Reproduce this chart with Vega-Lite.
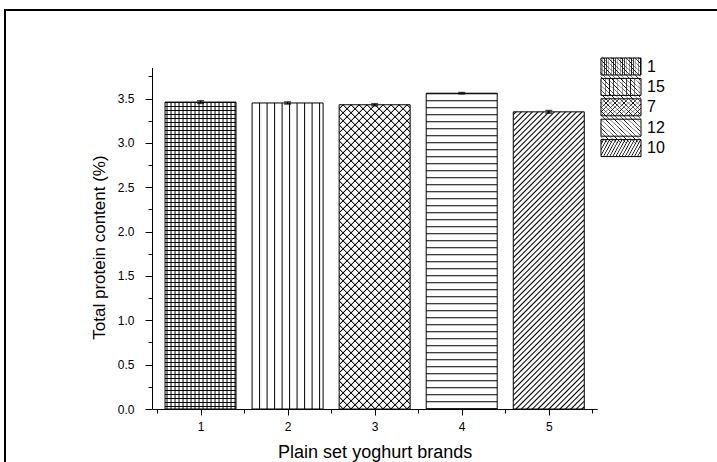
{
  "$schema": "https://vega.github.io/schema/vega-lite/v6.json",
  "width": 722,
  "height": 462,
  "autosize": {"type": "none"},
  "padding": {"left": 5, "top": 10, "right": -10, "bottom": -10},
  "background": "white",
  "params": [
    {"name": "G1", "value": {"gradient": "linear", "x1": 0, "y1": 0, "x2": 1, "y2": 0, "stops": [
      {"offset":0.0141,"color":"#fff"},{"offset":0.0282,"color":"#000"},{"offset":0.0423,"color":"#fff"},
      {"offset":0.0704,"color":"#fff"},{"offset":0.0845,"color":"#000"},{"offset":0.0986,"color":"#fff"},
      {"offset":0.1268,"color":"#fff"},{"offset":0.1408,"color":"#000"},{"offset":0.1549,"color":"#fff"},
      {"offset":0.1831,"color":"#fff"},{"offset":0.1972,"color":"#000"},{"offset":0.2113,"color":"#fff"},
      {"offset":0.2394,"color":"#fff"},{"offset":0.2535,"color":"#000"},{"offset":0.2676,"color":"#fff"},
      {"offset":0.2958,"color":"#fff"},{"offset":0.3099,"color":"#000"},{"offset":0.3239,"color":"#fff"},
      {"offset":0.3521,"color":"#fff"},{"offset":0.3662,"color":"#000"},{"offset":0.3803,"color":"#fff"},
      {"offset":0.4085,"color":"#fff"},{"offset":0.4225,"color":"#000"},{"offset":0.4366,"color":"#fff"},
      {"offset":0.4648,"color":"#fff"},{"offset":0.4789,"color":"#000"},{"offset":0.4930,"color":"#fff"},
      {"offset":0.5211,"color":"#fff"},{"offset":0.5352,"color":"#000"},{"offset":0.5493,"color":"#fff"},
      {"offset":0.5775,"color":"#fff"},{"offset":0.5915,"color":"#000"},{"offset":0.6056,"color":"#fff"},
      {"offset":0.6338,"color":"#fff"},{"offset":0.6479,"color":"#000"},{"offset":0.6620,"color":"#fff"},
      {"offset":0.6901,"color":"#fff"},{"offset":0.7042,"color":"#000"},{"offset":0.7183,"color":"#fff"},
      {"offset":0.7465,"color":"#fff"},{"offset":0.7606,"color":"#000"},{"offset":0.7746,"color":"#fff"},
      {"offset":0.8028,"color":"#fff"},{"offset":0.8169,"color":"#000"},{"offset":0.8310,"color":"#fff"},
      {"offset":0.8592,"color":"#fff"},{"offset":0.8732,"color":"#000"},{"offset":0.8873,"color":"#fff"},
      {"offset":0.9155,"color":"#fff"},{"offset":0.9296,"color":"#000"},{"offset":0.9437,"color":"#fff"},
      {"offset":0.9718,"color":"#fff"},{"offset":0.9859,"color":"#000"},{"offset":1,"color":"#fff"}]}},
    {"name": "G2", "value": {"gradient": "linear", "x1": 0, "y1": 0, "x2": 1, "y2": 0, "stops": [
      {"offset":0.0915,"color":"#fff"},{"offset":0.1056,"color":"#000"},{"offset":0.1197,"color":"#fff"},
      {"offset":0.1972,"color":"#fff"},{"offset":0.2113,"color":"#000"},{"offset":0.2254,"color":"#fff"},
      {"offset":0.3028,"color":"#fff"},{"offset":0.3169,"color":"#000"},{"offset":0.3310,"color":"#fff"},
      {"offset":0.4084,"color":"#fff"},{"offset":0.4225,"color":"#000"},{"offset":0.4366,"color":"#fff"},
      {"offset":0.5141,"color":"#fff"},{"offset":0.5282,"color":"#000"},{"offset":0.5423,"color":"#fff"},
      {"offset":0.6197,"color":"#fff"},{"offset":0.6338,"color":"#000"},{"offset":0.6479,"color":"#fff"},
      {"offset":0.7253,"color":"#fff"},{"offset":0.7394,"color":"#000"},{"offset":0.7535,"color":"#fff"},
      {"offset":0.8310,"color":"#fff"},{"offset":0.8451,"color":"#000"},{"offset":0.8592,"color":"#fff"},
      {"offset":0.9366,"color":"#fff"},{"offset":0.9507,"color":"#000"},{"offset":0.9648,"color":"#fff"}]}},
    {"name": "G3a", "value": {"gradient": "linear", "x1": 0, "y1": 0, "x2": 0.273, "y2": 1.1697, "stops": [
      {"offset":0.0075,"color":"#fff"},{"offset":0.0107,"color":"#000"},{"offset":0.0139,"color":"#fff"},
      {"offset":0.0288,"color":"#fff"},{"offset":0.0320,"color":"#000"},{"offset":0.0352,"color":"#fff"},
      {"offset":0.0501,"color":"#fff"},{"offset":0.0533,"color":"#000"},{"offset":0.0565,"color":"#fff"},
      {"offset":0.0714,"color":"#fff"},{"offset":0.0746,"color":"#000"},{"offset":0.0778,"color":"#fff"},
      {"offset":0.0927,"color":"#fff"},{"offset":0.0959,"color":"#000"},{"offset":0.0991,"color":"#fff"},
      {"offset":0.1141,"color":"#fff"},{"offset":0.1173,"color":"#000"},{"offset":0.1205,"color":"#fff"},
      {"offset":0.1354,"color":"#fff"},{"offset":0.1386,"color":"#000"},{"offset":0.1418,"color":"#fff"},
      {"offset":0.1567,"color":"#fff"},{"offset":0.1599,"color":"#000"},{"offset":0.1631,"color":"#fff"},
      {"offset":0.1780,"color":"#fff"},{"offset":0.1812,"color":"#000"},{"offset":0.1844,"color":"#fff"},
      {"offset":0.1994,"color":"#fff"},{"offset":0.2026,"color":"#000"},{"offset":0.2058,"color":"#fff"},
      {"offset":0.2207,"color":"#fff"},{"offset":0.2239,"color":"#000"},{"offset":0.2271,"color":"#fff"},
      {"offset":0.2420,"color":"#fff"},{"offset":0.2452,"color":"#000"},{"offset":0.2484,"color":"#fff"},
      {"offset":0.2633,"color":"#fff"},{"offset":0.2665,"color":"#000"},{"offset":0.2697,"color":"#fff"},
      {"offset":0.2846,"color":"#fff"},{"offset":0.2878,"color":"#000"},{"offset":0.2910,"color":"#fff"},
      {"offset":0.3060,"color":"#fff"},{"offset":0.3092,"color":"#000"},{"offset":0.3124,"color":"#fff"},
      {"offset":0.3273,"color":"#fff"},{"offset":0.3305,"color":"#000"},{"offset":0.3337,"color":"#fff"},
      {"offset":0.3486,"color":"#fff"},{"offset":0.3518,"color":"#000"},{"offset":0.3550,"color":"#fff"},
      {"offset":0.3699,"color":"#fff"},{"offset":0.3731,"color":"#000"},{"offset":0.3763,"color":"#fff"},
      {"offset":0.3913,"color":"#fff"},{"offset":0.3945,"color":"#000"},{"offset":0.3977,"color":"#fff"},
      {"offset":0.4126,"color":"#fff"},{"offset":0.4158,"color":"#000"},{"offset":0.4190,"color":"#fff"},
      {"offset":0.4339,"color":"#fff"},{"offset":0.4371,"color":"#000"},{"offset":0.4403,"color":"#fff"},
      {"offset":0.4552,"color":"#fff"},{"offset":0.4584,"color":"#000"},{"offset":0.4616,"color":"#fff"},
      {"offset":0.4765,"color":"#fff"},{"offset":0.4797,"color":"#000"},{"offset":0.4829,"color":"#fff"},
      {"offset":0.4979,"color":"#fff"},{"offset":0.5011,"color":"#000"},{"offset":0.5043,"color":"#fff"},
      {"offset":0.5192,"color":"#fff"},{"offset":0.5224,"color":"#000"},{"offset":0.5256,"color":"#fff"},
      {"offset":0.5405,"color":"#fff"},{"offset":0.5437,"color":"#000"},{"offset":0.5469,"color":"#fff"},
      {"offset":0.5618,"color":"#fff"},{"offset":0.5650,"color":"#000"},{"offset":0.5682,"color":"#fff"},
      {"offset":0.5832,"color":"#fff"},{"offset":0.5864,"color":"#000"},{"offset":0.5896,"color":"#fff"},
      {"offset":0.6045,"color":"#fff"},{"offset":0.6077,"color":"#000"},{"offset":0.6109,"color":"#fff"},
      {"offset":0.6258,"color":"#fff"},{"offset":0.6290,"color":"#000"},{"offset":0.6322,"color":"#fff"},
      {"offset":0.6471,"color":"#fff"},{"offset":0.6503,"color":"#000"},{"offset":0.6535,"color":"#fff"},
      {"offset":0.6684,"color":"#fff"},{"offset":0.6716,"color":"#000"},{"offset":0.6748,"color":"#fff"},
      {"offset":0.6898,"color":"#fff"},{"offset":0.6930,"color":"#000"},{"offset":0.6962,"color":"#fff"},
      {"offset":0.7111,"color":"#fff"},{"offset":0.7143,"color":"#000"},{"offset":0.7175,"color":"#fff"},
      {"offset":0.7324,"color":"#fff"},{"offset":0.7356,"color":"#000"},{"offset":0.7388,"color":"#fff"},
      {"offset":0.7537,"color":"#fff"},{"offset":0.7569,"color":"#000"},{"offset":0.7601,"color":"#fff"},
      {"offset":0.7751,"color":"#fff"},{"offset":0.7783,"color":"#000"},{"offset":0.7815,"color":"#fff"},
      {"offset":0.7964,"color":"#fff"},{"offset":0.7996,"color":"#000"},{"offset":0.8028,"color":"#fff"},
      {"offset":0.8177,"color":"#fff"},{"offset":0.8209,"color":"#000"},{"offset":0.8241,"color":"#fff"},
      {"offset":0.8390,"color":"#fff"},{"offset":0.8422,"color":"#000"},{"offset":0.8454,"color":"#fff"},
      {"offset":0.8603,"color":"#fff"},{"offset":0.8635,"color":"#000"},{"offset":0.8667,"color":"#fff"},
      {"offset":0.8817,"color":"#fff"},{"offset":0.8849,"color":"#000"},{"offset":0.8881,"color":"#fff"},
      {"offset":0.9030,"color":"#fff"},{"offset":0.9062,"color":"#000"},{"offset":0.9094,"color":"#fff"},
      {"offset":0.9243,"color":"#fff"},{"offset":0.9275,"color":"#000"},{"offset":0.9307,"color":"#fff"},
      {"offset":0.9456,"color":"#fff"},{"offset":0.9488,"color":"#000"},{"offset":0.9520,"color":"#fff"},
      {"offset":0.9670,"color":"#fff"},{"offset":0.9702,"color":"#000"},{"offset":0.9734,"color":"#fff"},
      {"offset":0.9883,"color":"#fff"},{"offset":0.9915,"color":"#000"},{"offset":0.9947,"color":"#fff"}]}},
    {"name": "G3b", "value": {"gradient": "linear", "x1": 0, "y1": 1, "x2": 0.273, "y2": -0.1697, "stops": [
      {"offset":0.0075,"color":"transparent"},{"offset":0.0107,"color":"#000"},{"offset":0.0139,"color":"transparent"},
      {"offset":0.0288,"color":"transparent"},{"offset":0.0320,"color":"#000"},{"offset":0.0352,"color":"transparent"},
      {"offset":0.0501,"color":"transparent"},{"offset":0.0533,"color":"#000"},{"offset":0.0565,"color":"transparent"},
      {"offset":0.0714,"color":"transparent"},{"offset":0.0746,"color":"#000"},{"offset":0.0778,"color":"transparent"},
      {"offset":0.0927,"color":"transparent"},{"offset":0.0959,"color":"#000"},{"offset":0.0991,"color":"transparent"},
      {"offset":0.1141,"color":"transparent"},{"offset":0.1173,"color":"#000"},{"offset":0.1205,"color":"transparent"},
      {"offset":0.1354,"color":"transparent"},{"offset":0.1386,"color":"#000"},{"offset":0.1418,"color":"transparent"},
      {"offset":0.1567,"color":"transparent"},{"offset":0.1599,"color":"#000"},{"offset":0.1631,"color":"transparent"},
      {"offset":0.1780,"color":"transparent"},{"offset":0.1812,"color":"#000"},{"offset":0.1844,"color":"transparent"},
      {"offset":0.1994,"color":"transparent"},{"offset":0.2026,"color":"#000"},{"offset":0.2058,"color":"transparent"},
      {"offset":0.2207,"color":"transparent"},{"offset":0.2239,"color":"#000"},{"offset":0.2271,"color":"transparent"},
      {"offset":0.2420,"color":"transparent"},{"offset":0.2452,"color":"#000"},{"offset":0.2484,"color":"transparent"},
      {"offset":0.2633,"color":"transparent"},{"offset":0.2665,"color":"#000"},{"offset":0.2697,"color":"transparent"},
      {"offset":0.2846,"color":"transparent"},{"offset":0.2878,"color":"#000"},{"offset":0.2910,"color":"transparent"},
      {"offset":0.3060,"color":"transparent"},{"offset":0.3092,"color":"#000"},{"offset":0.3124,"color":"transparent"},
      {"offset":0.3273,"color":"transparent"},{"offset":0.3305,"color":"#000"},{"offset":0.3337,"color":"transparent"},
      {"offset":0.3486,"color":"transparent"},{"offset":0.3518,"color":"#000"},{"offset":0.3550,"color":"transparent"},
      {"offset":0.3699,"color":"transparent"},{"offset":0.3731,"color":"#000"},{"offset":0.3763,"color":"transparent"},
      {"offset":0.3913,"color":"transparent"},{"offset":0.3945,"color":"#000"},{"offset":0.3977,"color":"transparent"},
      {"offset":0.4126,"color":"transparent"},{"offset":0.4158,"color":"#000"},{"offset":0.4190,"color":"transparent"},
      {"offset":0.4339,"color":"transparent"},{"offset":0.4371,"color":"#000"},{"offset":0.4403,"color":"transparent"},
      {"offset":0.4552,"color":"transparent"},{"offset":0.4584,"color":"#000"},{"offset":0.4616,"color":"transparent"},
      {"offset":0.4765,"color":"transparent"},{"offset":0.4797,"color":"#000"},{"offset":0.4829,"color":"transparent"},
      {"offset":0.4979,"color":"transparent"},{"offset":0.5011,"color":"#000"},{"offset":0.5043,"color":"transparent"},
      {"offset":0.5192,"color":"transparent"},{"offset":0.5224,"color":"#000"},{"offset":0.5256,"color":"transparent"},
      {"offset":0.5405,"color":"transparent"},{"offset":0.5437,"color":"#000"},{"offset":0.5469,"color":"transparent"},
      {"offset":0.5618,"color":"transparent"},{"offset":0.5650,"color":"#000"},{"offset":0.5682,"color":"transparent"},
      {"offset":0.5832,"color":"transparent"},{"offset":0.5864,"color":"#000"},{"offset":0.5896,"color":"transparent"},
      {"offset":0.6045,"color":"transparent"},{"offset":0.6077,"color":"#000"},{"offset":0.6109,"color":"transparent"},
      {"offset":0.6258,"color":"transparent"},{"offset":0.6290,"color":"#000"},{"offset":0.6322,"color":"transparent"},
      {"offset":0.6471,"color":"transparent"},{"offset":0.6503,"color":"#000"},{"offset":0.6535,"color":"transparent"},
      {"offset":0.6684,"color":"transparent"},{"offset":0.6716,"color":"#000"},{"offset":0.6748,"color":"transparent"},
      {"offset":0.6898,"color":"transparent"},{"offset":0.6930,"color":"#000"},{"offset":0.6962,"color":"transparent"},
      {"offset":0.7111,"color":"transparent"},{"offset":0.7143,"color":"#000"},{"offset":0.7175,"color":"transparent"},
      {"offset":0.7324,"color":"transparent"},{"offset":0.7356,"color":"#000"},{"offset":0.7388,"color":"transparent"},
      {"offset":0.7537,"color":"transparent"},{"offset":0.7569,"color":"#000"},{"offset":0.7601,"color":"transparent"},
      {"offset":0.7751,"color":"transparent"},{"offset":0.7783,"color":"#000"},{"offset":0.7815,"color":"transparent"},
      {"offset":0.7964,"color":"transparent"},{"offset":0.7996,"color":"#000"},{"offset":0.8028,"color":"transparent"},
      {"offset":0.8177,"color":"transparent"},{"offset":0.8209,"color":"#000"},{"offset":0.8241,"color":"transparent"},
      {"offset":0.8390,"color":"transparent"},{"offset":0.8422,"color":"#000"},{"offset":0.8454,"color":"transparent"},
      {"offset":0.8603,"color":"transparent"},{"offset":0.8635,"color":"#000"},{"offset":0.8667,"color":"transparent"},
      {"offset":0.8817,"color":"transparent"},{"offset":0.8849,"color":"#000"},{"offset":0.8881,"color":"transparent"},
      {"offset":0.9030,"color":"transparent"},{"offset":0.9062,"color":"#000"},{"offset":0.9094,"color":"transparent"},
      {"offset":0.9243,"color":"transparent"},{"offset":0.9275,"color":"#000"},{"offset":0.9307,"color":"transparent"},
      {"offset":0.9456,"color":"transparent"},{"offset":0.9488,"color":"#000"},{"offset":0.9520,"color":"transparent"},
      {"offset":0.9670,"color":"transparent"},{"offset":0.9702,"color":"#000"},{"offset":0.9734,"color":"transparent"},
      {"offset":0.9883,"color":"transparent"},{"offset":0.9915,"color":"#000"},{"offset":0.9947,"color":"transparent"}]}},
    {"name": "G5", "value": {"gradient": "linear", "x1": 0, "y1": 0, "x2": 0.2801, "y2": 1.172, "stops": [
      {"offset":0.0034,"color":"#fff"},{"offset":0.0075,"color":"#000"},{"offset":0.0116,"color":"#fff"},
      {"offset":0.0183,"color":"#fff"},{"offset":0.0224,"color":"#000"},{"offset":0.0265,"color":"#fff"},
      {"offset":0.0333,"color":"#fff"},{"offset":0.0374,"color":"#000"},{"offset":0.0415,"color":"#fff"},
      {"offset":0.0482,"color":"#fff"},{"offset":0.0523,"color":"#000"},{"offset":0.0564,"color":"#fff"},
      {"offset":0.0631,"color":"#fff"},{"offset":0.0672,"color":"#000"},{"offset":0.0713,"color":"#fff"},
      {"offset":0.0781,"color":"#fff"},{"offset":0.0822,"color":"#000"},{"offset":0.0863,"color":"#fff"},
      {"offset":0.0930,"color":"#fff"},{"offset":0.0971,"color":"#000"},{"offset":0.1012,"color":"#fff"},
      {"offset":0.1080,"color":"#fff"},{"offset":0.1121,"color":"#000"},{"offset":0.1162,"color":"#fff"},
      {"offset":0.1229,"color":"#fff"},{"offset":0.1270,"color":"#000"},{"offset":0.1311,"color":"#fff"},
      {"offset":0.1378,"color":"#fff"},{"offset":0.1419,"color":"#000"},{"offset":0.1460,"color":"#fff"},
      {"offset":0.1528,"color":"#fff"},{"offset":0.1569,"color":"#000"},{"offset":0.1610,"color":"#fff"},
      {"offset":0.1677,"color":"#fff"},{"offset":0.1718,"color":"#000"},{"offset":0.1759,"color":"#fff"},
      {"offset":0.1827,"color":"#fff"},{"offset":0.1868,"color":"#000"},{"offset":0.1909,"color":"#fff"},
      {"offset":0.1976,"color":"#fff"},{"offset":0.2017,"color":"#000"},{"offset":0.2058,"color":"#fff"},
      {"offset":0.2126,"color":"#fff"},{"offset":0.2167,"color":"#000"},{"offset":0.2208,"color":"#fff"},
      {"offset":0.2275,"color":"#fff"},{"offset":0.2316,"color":"#000"},{"offset":0.2357,"color":"#fff"},
      {"offset":0.2424,"color":"#fff"},{"offset":0.2465,"color":"#000"},{"offset":0.2506,"color":"#fff"},
      {"offset":0.2574,"color":"#fff"},{"offset":0.2615,"color":"#000"},{"offset":0.2656,"color":"#fff"},
      {"offset":0.2723,"color":"#fff"},{"offset":0.2764,"color":"#000"},{"offset":0.2805,"color":"#fff"},
      {"offset":0.2873,"color":"#fff"},{"offset":0.2914,"color":"#000"},{"offset":0.2955,"color":"#fff"},
      {"offset":0.3022,"color":"#fff"},{"offset":0.3063,"color":"#000"},{"offset":0.3104,"color":"#fff"},
      {"offset":0.3171,"color":"#fff"},{"offset":0.3212,"color":"#000"},{"offset":0.3253,"color":"#fff"},
      {"offset":0.3321,"color":"#fff"},{"offset":0.3362,"color":"#000"},{"offset":0.3403,"color":"#fff"},
      {"offset":0.3470,"color":"#fff"},{"offset":0.3511,"color":"#000"},{"offset":0.3552,"color":"#fff"},
      {"offset":0.3620,"color":"#fff"},{"offset":0.3661,"color":"#000"},{"offset":0.3702,"color":"#fff"},
      {"offset":0.3769,"color":"#fff"},{"offset":0.3810,"color":"#000"},{"offset":0.3851,"color":"#fff"},
      {"offset":0.3919,"color":"#fff"},{"offset":0.3960,"color":"#000"},{"offset":0.4001,"color":"#fff"},
      {"offset":0.4068,"color":"#fff"},{"offset":0.4109,"color":"#000"},{"offset":0.4150,"color":"#fff"},
      {"offset":0.4217,"color":"#fff"},{"offset":0.4258,"color":"#000"},{"offset":0.4299,"color":"#fff"},
      {"offset":0.4367,"color":"#fff"},{"offset":0.4408,"color":"#000"},{"offset":0.4449,"color":"#fff"},
      {"offset":0.4516,"color":"#fff"},{"offset":0.4557,"color":"#000"},{"offset":0.4598,"color":"#fff"},
      {"offset":0.4666,"color":"#fff"},{"offset":0.4707,"color":"#000"},{"offset":0.4748,"color":"#fff"},
      {"offset":0.4815,"color":"#fff"},{"offset":0.4856,"color":"#000"},{"offset":0.4897,"color":"#fff"},
      {"offset":0.4964,"color":"#fff"},{"offset":0.5005,"color":"#000"},{"offset":0.5046,"color":"#fff"},
      {"offset":0.5114,"color":"#fff"},{"offset":0.5155,"color":"#000"},{"offset":0.5196,"color":"#fff"},
      {"offset":0.5263,"color":"#fff"},{"offset":0.5304,"color":"#000"},{"offset":0.5345,"color":"#fff"},
      {"offset":0.5413,"color":"#fff"},{"offset":0.5454,"color":"#000"},{"offset":0.5495,"color":"#fff"},
      {"offset":0.5562,"color":"#fff"},{"offset":0.5603,"color":"#000"},{"offset":0.5644,"color":"#fff"},
      {"offset":0.5712,"color":"#fff"},{"offset":0.5753,"color":"#000"},{"offset":0.5794,"color":"#fff"},
      {"offset":0.5861,"color":"#fff"},{"offset":0.5902,"color":"#000"},{"offset":0.5943,"color":"#fff"},
      {"offset":0.6010,"color":"#fff"},{"offset":0.6051,"color":"#000"},{"offset":0.6092,"color":"#fff"},
      {"offset":0.6160,"color":"#fff"},{"offset":0.6201,"color":"#000"},{"offset":0.6242,"color":"#fff"},
      {"offset":0.6309,"color":"#fff"},{"offset":0.6350,"color":"#000"},{"offset":0.6391,"color":"#fff"},
      {"offset":0.6459,"color":"#fff"},{"offset":0.6500,"color":"#000"},{"offset":0.6541,"color":"#fff"},
      {"offset":0.6608,"color":"#fff"},{"offset":0.6649,"color":"#000"},{"offset":0.6690,"color":"#fff"},
      {"offset":0.6757,"color":"#fff"},{"offset":0.6798,"color":"#000"},{"offset":0.6839,"color":"#fff"},
      {"offset":0.6907,"color":"#fff"},{"offset":0.6948,"color":"#000"},{"offset":0.6989,"color":"#fff"},
      {"offset":0.7056,"color":"#fff"},{"offset":0.7097,"color":"#000"},{"offset":0.7138,"color":"#fff"},
      {"offset":0.7206,"color":"#fff"},{"offset":0.7247,"color":"#000"},{"offset":0.7288,"color":"#fff"},
      {"offset":0.7355,"color":"#fff"},{"offset":0.7396,"color":"#000"},{"offset":0.7437,"color":"#fff"},
      {"offset":0.7505,"color":"#fff"},{"offset":0.7546,"color":"#000"},{"offset":0.7587,"color":"#fff"},
      {"offset":0.7654,"color":"#fff"},{"offset":0.7695,"color":"#000"},{"offset":0.7736,"color":"#fff"},
      {"offset":0.7803,"color":"#fff"},{"offset":0.7844,"color":"#000"},{"offset":0.7885,"color":"#fff"},
      {"offset":0.7953,"color":"#fff"},{"offset":0.7994,"color":"#000"},{"offset":0.8035,"color":"#fff"},
      {"offset":0.8102,"color":"#fff"},{"offset":0.8143,"color":"#000"},{"offset":0.8184,"color":"#fff"},
      {"offset":0.8252,"color":"#fff"},{"offset":0.8293,"color":"#000"},{"offset":0.8334,"color":"#fff"},
      {"offset":0.8401,"color":"#fff"},{"offset":0.8442,"color":"#000"},{"offset":0.8483,"color":"#fff"},
      {"offset":0.8550,"color":"#fff"},{"offset":0.8591,"color":"#000"},{"offset":0.8632,"color":"#fff"},
      {"offset":0.8700,"color":"#fff"},{"offset":0.8741,"color":"#000"},{"offset":0.8782,"color":"#fff"},
      {"offset":0.8849,"color":"#fff"},{"offset":0.8890,"color":"#000"},{"offset":0.8931,"color":"#fff"},
      {"offset":0.8999,"color":"#fff"},{"offset":0.9040,"color":"#000"},{"offset":0.9081,"color":"#fff"},
      {"offset":0.9148,"color":"#fff"},{"offset":0.9189,"color":"#000"},{"offset":0.9230,"color":"#fff"},
      {"offset":0.9298,"color":"#fff"},{"offset":0.9339,"color":"#000"},{"offset":0.9380,"color":"#fff"},
      {"offset":0.9447,"color":"#fff"},{"offset":0.9488,"color":"#000"},{"offset":0.9529,"color":"#fff"},
      {"offset":0.9596,"color":"#fff"},{"offset":0.9637,"color":"#000"},{"offset":0.9678,"color":"#fff"},
      {"offset":0.9746,"color":"#fff"},{"offset":0.9787,"color":"#000"},{"offset":0.9828,"color":"#fff"},
      {"offset":0.9895,"color":"#fff"},{"offset":0.9936,"color":"#000"},{"offset":0.9977,"color":"#fff"}]}},
    {"name": "L1a", "value": {"gradient": "linear", "x1": 0, "y1": 0, "x2": 1, "y2": 0, "stops": [
      {"offset":0.025,"color":"#fff"},{"offset":0.05,"color":"#000"},{"offset":0.075,"color":"#fff"},
      {"offset":0.125,"color":"#fff"},{"offset":0.15,"color":"#000"},{"offset":0.175,"color":"#fff"},
      {"offset":0.225,"color":"#fff"},{"offset":0.25,"color":"#000"},{"offset":0.275,"color":"#fff"},
      {"offset":0.325,"color":"#fff"},{"offset":0.35,"color":"#000"},{"offset":0.375,"color":"#fff"},
      {"offset":0.425,"color":"#fff"},{"offset":0.45,"color":"#000"},{"offset":0.475,"color":"#fff"},
      {"offset":0.525,"color":"#fff"},{"offset":0.55,"color":"#000"},{"offset":0.575,"color":"#fff"},
      {"offset":0.625,"color":"#fff"},{"offset":0.65,"color":"#000"},{"offset":0.675,"color":"#fff"},
      {"offset":0.725,"color":"#fff"},{"offset":0.75,"color":"#000"},{"offset":0.775,"color":"#fff"},
      {"offset":0.825,"color":"#fff"},{"offset":0.85,"color":"#000"},{"offset":0.875,"color":"#fff"},
      {"offset":0.925,"color":"#fff"},{"offset":0.95,"color":"#000"},{"offset":0.975,"color":"#fff"}]}},
    {"name": "L1b", "value": {"gradient": "linear", "x1": 0, "y1": 0, "x2": 0, "y2": 1, "stops": [
      {"offset":0.0882,"color":"transparent"},{"offset":0.1471,"color":"#000"},{"offset":0.2059,"color":"transparent"},
      {"offset":0.3235,"color":"transparent"},{"offset":0.3824,"color":"#000"},{"offset":0.4412,"color":"transparent"},
      {"offset":0.5588,"color":"transparent"},{"offset":0.6176,"color":"#000"},{"offset":0.6765,"color":"transparent"},
      {"offset":0.7941,"color":"transparent"},{"offset":0.8529,"color":"#000"},{"offset":0.9118,"color":"transparent"}]}},
    {"name": "L15", "value": {"gradient": "linear", "x1": 0, "y1": 0, "x2": 1, "y2": 0, "stops": [
      {"offset":0.175,"color":"#fff"},{"offset":0.2,"color":"#000"},{"offset":0.225,"color":"#fff"},
      {"offset":0.375,"color":"#fff"},{"offset":0.4,"color":"#000"},{"offset":0.425,"color":"#fff"},
      {"offset":0.575,"color":"#fff"},{"offset":0.6,"color":"#000"},{"offset":0.625,"color":"#fff"},
      {"offset":0.775,"color":"#fff"},{"offset":0.8,"color":"#000"},{"offset":0.825,"color":"#fff"}]}},
    {"name": "L7a", "value": {"gradient": "linear", "x1": 0, "y1": 0, "x2": 1.207, "y2": 0.513, "stops": [
      {"offset":0.0492,"color":"#fff"},{"offset":0.0702,"color":"#000"},{"offset":0.0912,"color":"#fff"},
      {"offset":0.1895,"color":"#fff"},{"offset":0.2105,"color":"#000"},{"offset":0.2315,"color":"#fff"},
      {"offset":0.3299,"color":"#fff"},{"offset":0.3509,"color":"#000"},{"offset":0.3719,"color":"#fff"},
      {"offset":0.4702,"color":"#fff"},{"offset":0.4912,"color":"#000"},{"offset":0.5122,"color":"#fff"},
      {"offset":0.6106,"color":"#fff"},{"offset":0.6316,"color":"#000"},{"offset":0.6526,"color":"#fff"},
      {"offset":0.7509,"color":"#fff"},{"offset":0.7719,"color":"#000"},{"offset":0.7929,"color":"#fff"},
      {"offset":0.8913,"color":"#fff"},{"offset":0.9123,"color":"#000"},{"offset":0.9333,"color":"#fff"}]}},
    {"name": "L7b", "value": {"gradient": "linear", "x1": 0, "y1": 1, "x2": 1.207, "y2": 0.487, "stops": [
      {"offset":0.0492,"color":"transparent"},{"offset":0.0702,"color":"#000"},{"offset":0.0912,"color":"transparent"},
      {"offset":0.1895,"color":"transparent"},{"offset":0.2105,"color":"#000"},{"offset":0.2315,"color":"transparent"},
      {"offset":0.3299,"color":"transparent"},{"offset":0.3509,"color":"#000"},{"offset":0.3719,"color":"transparent"},
      {"offset":0.4702,"color":"transparent"},{"offset":0.4912,"color":"#000"},{"offset":0.5122,"color":"transparent"},
      {"offset":0.6106,"color":"transparent"},{"offset":0.6316,"color":"#000"},{"offset":0.6526,"color":"transparent"},
      {"offset":0.7509,"color":"transparent"},{"offset":0.7719,"color":"#000"},{"offset":0.7929,"color":"transparent"},
      {"offset":0.8913,"color":"transparent"},{"offset":0.9123,"color":"#000"},{"offset":0.9333,"color":"transparent"}]}},
    {"name": "L12", "value": {"gradient": "linear", "x1": 0, "y1": 0, "x2": 0, "y2": 1, "stops": [
      {"offset":0.35,"color":"#fff"},{"offset":0.4,"color":"#000"},{"offset":0.45,"color":"#fff"},
      {"offset":0.72,"color":"#fff"},{"offset":0.77,"color":"#000"},{"offset":0.82,"color":"#fff"}]}},
    {"name": "L10", "value": {"gradient": "linear", "x1": 0, "y1": 0, "x2": 1.207, "y2": 0.513, "stops": [
      {"offset":0.0219,"color":"#fff"},{"offset":0.0482,"color":"#000"},{"offset":0.0745,"color":"#fff"},
      {"offset":0.1184,"color":"#fff"},{"offset":0.1447,"color":"#000"},{"offset":0.1710,"color":"#fff"},
      {"offset":0.2149,"color":"#fff"},{"offset":0.2412,"color":"#000"},{"offset":0.2675,"color":"#fff"},
      {"offset":0.3114,"color":"#fff"},{"offset":0.3377,"color":"#000"},{"offset":0.3640,"color":"#fff"},
      {"offset":0.4079,"color":"#fff"},{"offset":0.4342,"color":"#000"},{"offset":0.4605,"color":"#fff"},
      {"offset":0.5044,"color":"#fff"},{"offset":0.5307,"color":"#000"},{"offset":0.5570,"color":"#fff"},
      {"offset":0.6009,"color":"#fff"},{"offset":0.6272,"color":"#000"},{"offset":0.6535,"color":"#fff"},
      {"offset":0.6974,"color":"#fff"},{"offset":0.7237,"color":"#000"},{"offset":0.7500,"color":"#fff"},
      {"offset":0.7939,"color":"#fff"},{"offset":0.8202,"color":"#000"},{"offset":0.8465,"color":"#fff"},
      {"offset":0.8904,"color":"#fff"},{"offset":0.9167,"color":"#000"},{"offset":0.9430,"color":"#fff"}]}}
  ],
  "data": {"values": [
    {"brand": 1, "label": "1", "value": 3.46, "err": 0.015},
    {"brand": 2, "label": "15", "value": 3.45, "err": 0.012},
    {"brand": 3, "label": "7", "value": 3.43, "err": 0.012},
    {"brand": 4, "label": "12", "value": 3.56, "err": 0.008},
    {"brand": 5, "label": "10", "value": 3.35, "err": 0.015}
  ]},
  "encoding": {
    "x": {"field": "brand", "type": "quantitative",
      "scale": {"domain": [0.5, 5.5], "range": [147, 592.3], "nice": false, "zero": false},
      "axis": {"orient": "bottom", "offset": -63,
        "values": [0.5, 1, 1.5, 2, 2.5, 3, 3.5, 4, 4.5, 5, 5.5],
        "labelExpr": "datum.value % 1 === 0 ? format(datum.value, 'd') : ''",
        "tickSize": {"condition": {"test": "datum.value % 1 === 0", "value": 6}, "value": 4},
        "labelPadding": 6, "labelFontSize": 12, "labelFlush": false, "labelOverlap": false,
        "title": "Plain set yoghurt brands", "titleFontSize": 18, "titlePadding": 11}},
    "y": {"field": "value", "type": "quantitative",
      "scale": {"domain": [0, 3.85], "range": [399, 57.5], "nice": false, "zero": true},
      "axis": {"orient": "left", "offset": -147,
        "values": [0, 0.25, 0.5, 0.75, 1, 1.25, 1.5, 1.75, 2, 2.25, 2.5, 2.75, 3, 3.25, 3.5, 3.75],
        "labelExpr": "datum.value % 0.5 === 0 ? format(datum.value, '.1f') : ''",
        "tickSize": {"condition": {"test": "datum.value % 0.5 === 0", "value": 7}, "value": 4},
        "labelPadding": 11, "labelFontSize": 12, "labelFlush": false, "labelOverlap": false,
        "title": "Total protein content (%)", "titleFontSize": 17, "titlePadding": 9, "titleY": 237}}
  },
  "layer": [
    {
      "mark": {"type": "bar", "width": 71, "strokeWidth": 1,
        "fill": {"expr": "datum.label === '1' ? G1 : datum.label === '15' ? G2 : datum.label === '7' ? G3a : datum.label === '12' ? 'white' : G5"}},
      "encoding": {
        "stroke": {"field": "label", "type": "nominal",
          "scale": {"domain": ["1", "15", "7", "12", "10"], "range": ["black", "black", "black", "black", "black"]},
          "legend": {"orient": "none", "legendX": 607, "legendY": 47.5, "title": null,
            "symbolStrokeWidth": 1,
            "encode": {"symbols": {"update": {"fill": {"signal": "datum.value === '1' ? L1a : datum.value === '15' ? L15 : datum.value === '7' ? L7a : datum.value === '12' ? L12 : L10"}}}}}}
      }
    },
    {
      "transform": [{"filter": "datum.label === '7'"}],
      "mark": {"type": "bar", "width": 71, "strokeWidth": 0, "fill": {"expr": "G3b"}},
      "encoding": {
        "opacity": {"field": "brand", "type": "nominal",
          "scale": {"domain": [1, 2, 3, 4, 5], "range": [1, 1, 1, 1, 1]},
          "legend": {"orient": "none", "legendX": 607, "legendY": 47.5, "title": null,
            "symbolStrokeWidth": 0, "symbolStrokeColor": "transparent", "labelOpacity": 0,
            "labelExpr": "' '",
            "encode": {"symbols": {"update": {"fill": {"signal": "datum.value === 1 ? L1b : datum.value === 3 ? L7b : 'transparent'"}, "stroke": {"value": "transparent"}}}}}}
      }
    },
    {
      "transform": [{"filter": "datum.label === '1' || datum.label === '12'"}],
      "mark": {"type": "rule", "strokeWidth": 71, "color": "black", "strokeCap": "butt"},
      "encoding": {
        "y2": {"datum": 0},
        "strokeDash": {"condition": {"test": "datum.label === '1'", "value": [1, 3]}, "value": [1, 6]}
      }
    },
    {
      "mark": {"type": "errorbar", "color": "black", "thickness": 1.5, "ticks": {"size": 7, "thickness": 1.5, "color": "black"}},
      "encoding": {"yError": {"field": "err"}}
    }
  ],
  "config": {
    "font": "Liberation Sans",
    "view": {"stroke": "black", "strokeWidth": 2},
    "axis": {"grid": false, "domainColor": "black", "domainWidth": 1, "tickColor": "black", "tickWidth": 1,
      "labelColor": "black", "titleColor": "black", "labelFont": "Liberation Sans", "titleFont": "Liberation Sans", "titleFontWeight": "normal"},
    "legend": {"symbolType": "M-2.353,-1H2.353V1H-2.353Z", "symbolSize": 289, "labelFontSize": 16,
      "labelFont": "Liberation Sans", "labelColor": "black", "labelOffset": 17, "rowPadding": -1.6, "padding": 0}
  }
}
